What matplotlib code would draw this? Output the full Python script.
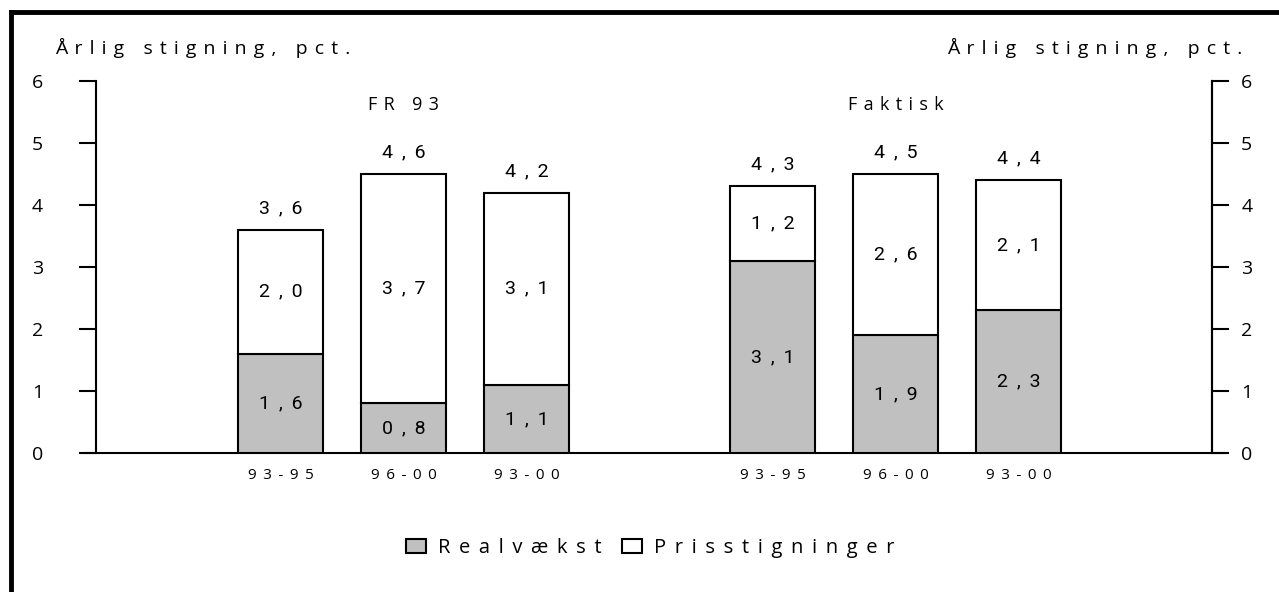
import matplotlib
matplotlib.use('Agg')
import matplotlib.pyplot as plt
from matplotlib.patches import Patch
from matplotlib.lines import Line2D


def spaced(s, gap=' \u200a'):
    # wide letter spacing like the original
    return gap.join(s)


periods = ['93-95', '96-00', '93-00', '93-95', '96-00', '93-00']
positions = [0, 1, 2, 4, 5, 6]
realvaekst = [1.6, 0.8, 1.1, 3.1, 1.9, 2.3]
prisstigning = [2.0, 3.7, 3.1, 1.2, 2.6, 2.1]
totals = [3.6, 4.6, 4.2, 4.3, 4.5, 4.4]
groups = ['FR 93', 'Faktisk']
group_pos = [1, 5]

plt.rcParams['font.family'] = ['Open Sans', 'DejaVu Sans']

fig = plt.figure(figsize=(12.79, 5.92), dpi=100)
ax = fig.add_axes([96 / 1279, 1 - 453 / 592, (1212 - 96) / 1279, (453 - 81) / 592])

w = 0.69
ax.bar(positions, realvaekst, width=w, color='#c0c0c0', edgecolor='black', linewidth=1.5)
ax.bar(positions, prisstigning, width=w, bottom=realvaekst, color='white',
       edgecolor='black', linewidth=1.5)

fnt = ['Roboto', 'DejaVu Sans']
for x, r, p, t in zip(positions, realvaekst, prisstigning, totals):
    ax.text(x, r / 2, spaced(f'{r:.1f}'.replace('.', ','), ' \u2009'), ha='center',
            va='center', fontsize=14, family=fnt)
    ax.text(x, r + p / 2, spaced(f'{p:.1f}'.replace('.', ','), ' \u2009'), ha='center',
            va='center', fontsize=14, family=fnt)
    ax.text(x, r + p + 0.35, spaced(f'{t:.1f}'.replace('.', ','), ' \u2009'), ha='center',
            va='center', fontsize=14, family=fnt)

for x, g in zip(group_pos, groups):
    ax.text(x, 5.62, spaced(g), ha='center', va='center', fontsize=13)

ax.set_xlim(-1.5, 7.57)
ax.set_ylim(0, 6)
ax.set_yticks(range(7))
ax.set_xticks(positions)
ax.set_xticklabels([spaced(p, ' \u2009') for p in periods], fontsize=11)
ax.tick_params(axis='x', length=0, pad=11)
ax.tick_params(axis='y', direction='out', length=12, width=1.5, labelsize=14, pad=26)
ax.spines['top'].set_visible(False)
ax.spines['bottom'].set_visible(False)
ax.spines['left'].set_linewidth(1.5)
ax.spines['right'].set_linewidth(1.5)

ax2 = ax.twinx()
ax2.set_ylim(0, 6)
ax2.set_yticks(range(7))
ax2.tick_params(axis='y', direction='out', length=12, width=1.5, labelsize=14, pad=9)
for s in ['top', 'bottom', 'left']:
    ax2.spines[s].set_visible(False)
ax2.spines['right'].set_linewidth(1.5)

ax.axhline(0, xmin=-12 / 1116, xmax=1 + 12 / 1116, color='black', linewidth=1.5,
           clip_on=False, zorder=0)

ylab = spaced('Årlig stigning, pct.')
fig.text(55 / 1279, 1 - 48 / 592, ylab, ha='left', va='center', fontsize=14)
fig.text(1242 / 1279, 1 - 48 / 592, ylab, ha='right', va='center', fontsize=14)

handles = [Patch(facecolor='#c0c0c0', edgecolor='black', linewidth=1.5),
           Patch(facecolor='white', edgecolor='black', linewidth=1.5)]
fig.legend(handles, [spaced('Realvækst', ' \u2009'), spaced('Prisstigninger', ' \u2009')],
           loc='center', bbox_to_anchor=(650 / 1279, 1 - 548 / 592), ncol=2, frameon=False,
           fontsize=14.5, handlelength=1.0, handleheight=0.7, handletextpad=0.6,
           columnspacing=1.0)

# outer frame (top and left edges visible)
fig.add_artist(Line2D([11 / 1279, 1], [1 - 12 / 592, 1 - 12 / 592], color='black',
                      linewidth=3.5, transform=fig.transFigure))
fig.add_artist(Line2D([11 / 1279, 11 / 1279], [0, 1 - 12 / 592], color='black',
                      linewidth=3.5, transform=fig.transFigure))

fig.savefig('out.png', dpi=100)
